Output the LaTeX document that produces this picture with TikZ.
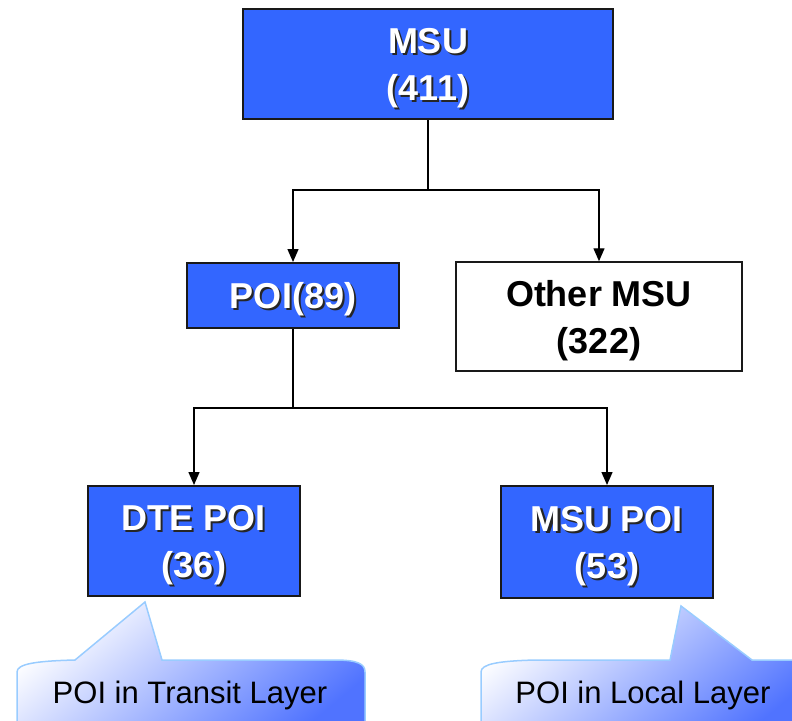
\documentclass[tikz,border=0pt]{standalone}
\usepackage{fontspec}
\setmainfont{Liberation Sans}
\usetikzlibrary{arrows.meta}
\definecolor{boxblue}{RGB}{51,102,255}
\definecolor{calloutedge}{RGB}{153,204,255}
\definecolor{calloutblue}{RGB}{80,115,255}
% white label with a dark drop shadow
\newcommand\shadowed[1]{\makebox[0pt][l]{\hspace{2pt}\raisebox{-2pt}{\color{black!85}#1}}#1}

\begin{document}
\begin{tikzpicture}[x=1pt,y=-1pt,
  boxfont/.style={font=\fontsize{36}{47}\selectfont\bfseries},
  bluebox/.style={boxfont,draw=black!90,line width=2pt,fill=boxblue,text=white,
    align=center,inner sep=0pt,text depth=0pt},
  plainbox/.style={boxfont,draw=black!90,line width=1.5pt,fill=white,text=black,
    align=center,inner sep=0pt,text depth=0pt},
  link/.style={line width=1.4pt},
  arrowlink/.style={link,-{Triangle[length=13pt,width=11pt]}},
  callout/.style={draw=calloutedge,line width=1.5pt,top color=white,
    bottom color=calloutblue,shading angle=40},
  callouttext/.style={font=\fontsize{31}{37}\selectfont,text=black,anchor=base,inner sep=0pt}
]
\useasboundingbox (0,0) rectangle (792,720);
\clip (0,0) rectangle (792,720);

% boxes
\node[bluebox,minimum width=370pt,minimum height=110pt] (msu) at (428,64)
  {\shadowed{MSU}\\\shadowed{(411)}};
\node[bluebox,minimum width=212pt,minimum height=65pt] (poi) at (293,295.5)
  {\shadowed{POI(89)}};
\node[plainbox,minimum width=286pt,minimum height=109pt] (other) at (599,316.5)
  {Other MSU\\(322)};
\node[bluebox,minimum width=212pt,minimum height=110pt] (dte) at (194,541)
  {\shadowed{DTE POI}\\\shadowed{(36)}};
\node[bluebox,minimum width=212pt,minimum height=112pt] (msupoi) at (607,542)
  {\shadowed{MSU POI}\\\shadowed{(53)}};

% tree connectors
\coordinate (j1) at (428,190);
\coordinate (j2) at (293,408);
\draw[link] (msu.south) -- (j1);
\draw[arrowlink] (j1) -| (poi.north);
\draw[arrowlink] (j1) -| (other.north);
\draw[link] (poi.south) -- (j2);
\draw[arrowlink] (j2) -| (dte.north);
\draw[arrowlink] (j2) -| (msupoi.north);

% callouts below the lower boxes
\draw[callout] (17,740) -- (17,672) .. controls (17,664) and (35,661) .. (75,660)
  -- (145,602) -- (162,660) -- (335,660) .. controls (358,660) and (365,664) .. (365,672)
  -- (365,740) -- cycle;
\node[callouttext] (transit) at (190,703) {POI in Transit Layer};

\draw[callout] (481,740) -- (481,672) .. controls (481,664) and (498,661) .. (535,660)
  -- (670,660) -- (681,606) -- (752,660) -- (810,660) -- (810,740) -- cycle;
\node[callouttext] (local) at (643,703) {POI in Local Layer};
\end{tikzpicture}
\end{document}
